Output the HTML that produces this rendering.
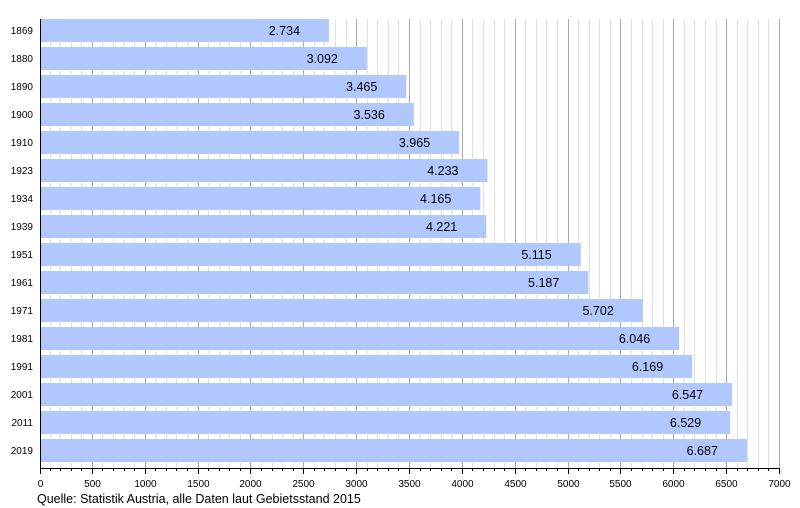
<!DOCTYPE html>
<html><head><meta charset="utf-8"><style>
body{margin:0;background:#fff}
svg{display:block;font-family:"Liberation Sans",sans-serif}
</style></head><body>
<svg width="800" height="508" xmlns="http://www.w3.org/2000/svg">
<g id="grid"></g>
<g id="bars"></g>
<line x1="40.5" y1="19" x2="40.5" y2="469" stroke="#000" stroke-width="1"/>
<line x1="40" y1="468.5" x2="780" y2="468.5" stroke="#000" stroke-width="1"/>
<g id="ticks"></g>
<text x="37" y="503" font-size="12.5" fill="#000">Quelle: Statistik Austria, alle Daten laut Gebietsstand 2015</text>
<script>
var ns="http://www.w3.org/2000/svg";
function el(p,t,a,txt){var e=document.createElementNS(ns,t);for(var k in a)e.setAttribute(k,a[k]);if(txt!=null)e.textContent=txt;document.getElementById(p).appendChild(e);}
var s=740/7000;
for(var v=100;v<=7000;v+=100){var x=Math.round(40+v*s)-0.5;var maj=v%500==0;
el("grid","line",{x1:x,y1:19,x2:x,y2:468,stroke:maj?"#aaa":"#e0e0e0","stroke-width":1});}
for(var v=0;v<=7000;v+=100){var x=v==0?40.5:Math.round(40+v*s)-0.5;var maj=v%500==0;
el("ticks","line",{x1:x,y1:468,x2:x,y2:maj?474:471,stroke:"#000","stroke-width":1});
if(maj)el("ticks","text",{x:x,y:487,"font-size":"10","text-anchor":"middle"},String(v));}
var d=[["1869",2734],["1880",3092],["1890",3465],["1900",3536],["1910",3965],["1923",4233],["1934",4165],["1939",4221],["1951",5115],["1961",5187],["1971",5702],["1981",6046],["1991",6169],["2001",6547],["2011",6529],["2019",6687]];
d.forEach(function(r,i){var y=19+28*i;var w=r[1]*s;
el("bars","rect",{x:41,y:y,width:w-1,height:23,fill:"#b0c8ff"});
el("bars","text",{x:40+w-29,y:y+16,"font-size":"12.5","text-anchor":"end"},(r[1]/1000).toFixed(3));
el("bars","text",{x:33,y:y+15,"font-size":"10","text-anchor":"end"},r[0]);});
</script>
</svg>
</body></html>
